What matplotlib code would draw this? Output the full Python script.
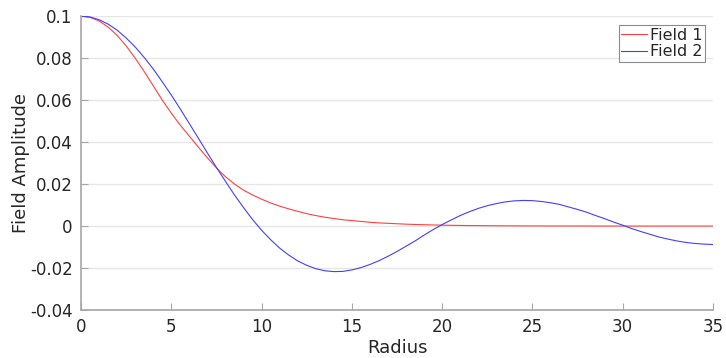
import numpy as np
import matplotlib
matplotlib.use("Agg")
import matplotlib.pyplot as plt

# radius samples (every 0.5)
radius = np.arange(0, 35.5, 0.5)

# values
field1 = [0.1000, 0.0994, 0.0977, 0.0948, 0.0908, 0.0858, 0.0800, 0.0736, 0.0668, 0.0600,
          0.0538, 0.0480, 0.0428, 0.0376, 0.0325, 0.0277, 0.0235, 0.0200, 0.0171, 0.0148,
          0.0128, 0.0110, 0.0095, 0.0082, 0.0070, 0.0059, 0.0050, 0.0042, 0.0036, 0.0030,
          0.0026, 0.0022, 0.0018, 0.0015, 0.0013, 0.0011, 0.0009, 0.00075, 0.00063, 0.00052,
          0.00043, 0.00035, 0.00029, 0.00024, 0.00020, 0.00016, 0.00013, 0.00011, 0.00009, 0.00007,
          0.00006, 0.00005, 0.00004, 0.00003, 0.00003, 0.00002, 0.00002, 0.00001, 0.00001, 0.00001,
          0.00001, 0.0, 0.0, 0.0, 0.0, 0.0, 0.0, 0.0, 0.0, 0.0, 0.0]
field2 = [0.1000, 0.0996, 0.0983, 0.0962, 0.0933, 0.0896, 0.0853, 0.0803, 0.0748, 0.0687,
          0.0624, 0.0557, 0.0488, 0.0418, 0.0348, 0.0279, 0.0213, 0.0148, 0.0088, 0.0031,
          -0.0020, -0.0065, -0.0105, -0.0138, -0.0166, -0.0187, -0.0203, -0.0213, -0.0217, -0.0216,
          -0.0209, -0.0198, -0.0183, -0.0165, -0.0144, -0.0121, -0.0096, -0.0071, -0.0043, -0.0017,
          0.0007, 0.0029, 0.0050, 0.0068, 0.0084, 0.0097, 0.0107, 0.0115, 0.0120, 0.0122,
          0.0121, 0.0117, 0.0111, 0.0103, 0.0091, 0.0079, 0.0066, 0.0050, 0.0035, 0.0019,
          0.0004, -0.0012, -0.0026, -0.0039, -0.0052, -0.0062, -0.0071, -0.0078, -0.0083, -0.0086,
          -0.0088]

xticks = [0, 5, 10, 15, 20, 25, 30, 35]
yticks = [-0.04, -0.02, 0, 0.02, 0.04, 0.06, 0.08, 0.1]
ytick_labels = ["-0.04", "-0.02", "0", "0.02", "0.04", "0.06", "0.08", "0.1"]

txt = "#262626"
fig = plt.figure(figsize=(7.26, 3.58), dpi=100)
ax = fig.add_axes([0.1116, 0.134, 0.8705, 0.821])

ax.plot(radius, field1, color="#ff4040", lw=0.8, label="Field 1")
ax.plot(radius, field2, color="#4040ff", lw=0.8, label="Field 2")

ax.set_xlim(0, 35)
ax.set_ylim(-0.04, 0.1)
ax.set_xticks(xticks)
ax.set_yticks(yticks)
ax.set_yticklabels(ytick_labels)
ax.yaxis.grid(True, color="#e6e6e6", lw=1)
ax.set_axisbelow(True)

for s in ["top", "right"]:
    ax.spines[s].set_visible(False)
for s in ["left", "bottom"]:
    ax.spines[s].set_color("#a6a6a6")
    ax.spines[s].set_linewidth(1.2)
ax.tick_params(direction="in", length=5, color="#a6a6a6", labelsize=12,
               labelcolor=txt, pad=6)

ax.set_xlabel("Radius", fontsize=13, color=txt, labelpad=2)
ax.set_ylabel("Field Amplitude", fontsize=13, color=txt, labelpad=0)

leg = ax.legend(loc="upper right", bbox_to_anchor=(0.987, 0.969), fontsize=11.5,
                frameon=True, fancybox=False, handlelength=1.6, handletextpad=0.2,
                borderpad=0.15, labelspacing=0.1, borderaxespad=0)
leg.get_frame().set_edgecolor("#707070")
leg.get_frame().set_linewidth(0.8)
for t in leg.get_texts():
    t.set_color(txt)

fig.savefig("out.png", dpi=100)
